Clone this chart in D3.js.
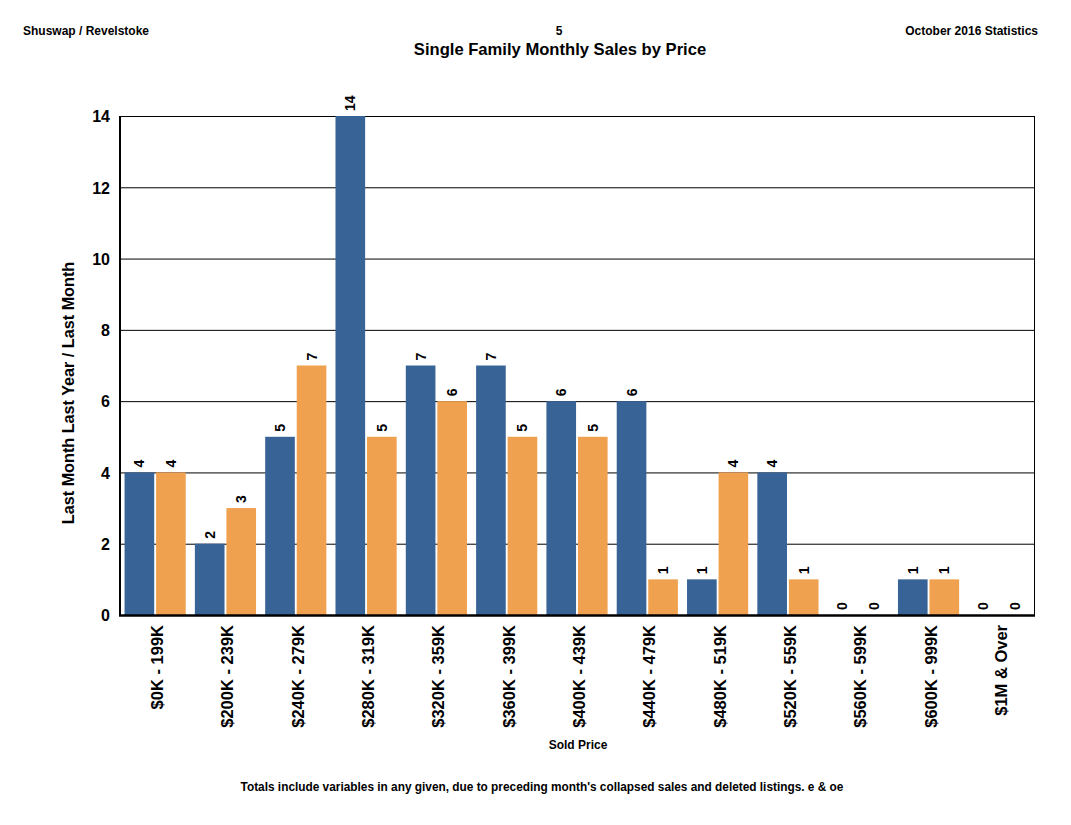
<!DOCTYPE html>
<html>
<head>
<meta charset="utf-8">
<script src="https://cdn.jsdelivr.net/npm/d3@7"></script>
<style>
  body { margin: 0; background: #fff; }
  text { font-family: "Liberation Sans", Arial, sans-serif; font-weight: bold; fill: #000; }
</style>
</head>
<body>
<div id="container"></div>
<script>
const categories = ["$0K - 199K", "$200K - 239K", "$240K - 279K", "$280K - 319K", "$320K - 359K",
  "$360K - 399K", "$400K - 439K", "$440K - 479K", "$480K - 519K", "$520K - 559K",
  "$560K - 599K", "$600K - 999K", "$1M & Over"];
const lastYear = [4, 2, 5, 14, 7, 7, 6, 6, 1, 4, 0, 1, 0];
const lastMonth = [4, 3, 7, 5, 6, 5, 5, 1, 4, 1, 0, 1, 0];
const seriesKeys = ["ly", "lm"];
const yTicks = [0, 2, 4, 6, 8, 10, 12, 14];

const width = 1071, height = 825;
const padding = { top: 116, bot: 615, left: 120, right: 1034 };
const colors = { ly: "#386397", lm: "#efa14f" };

const dataset = categories.map((c, i) => ({ cat: c, ly: lastYear[i], lm: lastMonth[i] }));

const svg = d3.select("#container")
              .append("svg")
              .attr("width", width)
              .attr("height", height);

const x0 = d3.scaleBand()
             .domain(categories)
             .range([padding.left, padding.right])
             .paddingInner(0.13)
             .paddingOuter(0.065);
const x1 = d3.scaleBand()
             .domain(seriesKeys)
             .range([0, x0.bandwidth()])
             .paddingInner(0.06);
const yScale = d3.scaleLinear()
                 .domain([0, 14])
                 .range([padding.bot, padding.top]);

// gridlines
svg.append("g")
   .selectAll("line")
   .data(yTicks.filter(d => d > 0))
   .enter()
   .append("line")
   .attr("x1", padding.left)
   .attr("x2", padding.right)
   .attr("y1", d => yScale(d) + 0.5)
   .attr("y2", d => yScale(d) + 0.5)
   .attr("stroke", "#000")
   .attr("stroke-width", 1);

svg.append("line")
   .attr("x1", padding.right + 0.5).attr("x2", padding.right + 0.5)
   .attr("y1", padding.top).attr("y2", padding.bot)
   .attr("stroke", "#000");

// bars
const groups = svg.append("g")
                  .selectAll("g")
                  .data(dataset)
                  .enter()
                  .append("g")
                  .attr("transform", d => "translate(" + x0(d.cat) + ",0)");

groups.selectAll("rect")
      .data(d => seriesKeys.map(k => ({ key: k, value: d[k] })))
      .enter()
      .append("rect")
      .attr("x", d => x1(d.key))
      .attr("y", d => yScale(d.value))
      .attr("width", x1.bandwidth())
      .attr("height", d => yScale(0) - yScale(d.value))
      .attr("fill", d => colors[d.key]);

groups.selectAll("text")
      .data(d => seriesKeys.map(k => ({ key: k, value: d[k] })))
      .enter()
      .append("text")
      .text(d => d.value)
      .attr("transform", d => "translate(" + (x1(d.key) + x1.bandwidth() / 2 + 5) + "," + (yScale(d.value) - 5) + ")rotate(-90)")
      .attr("text-anchor", "start")
      .style("font-size", "14px");

// axes
const yAxis = d3.axisLeft(yScale)
                .tickValues(yTicks)
                .tickSize(0)
                .tickPadding(10);
const yG = svg.append("g")
              .attr("transform", "translate(" + padding.left + ",0)")
              .call(yAxis);
yG.select(".domain").remove();
yG.selectAll("text").style("font-size", "16px").attr("dy", "0.36em");

const xAxis = d3.axisBottom(x0).tickSize(0);
const xG = svg.append("g")
              .attr("transform", "translate(0," + padding.bot + ")")
              .call(xAxis);
xG.select(".domain").remove();
xG.selectAll("text")
  .style("font-size", "16.5px")
  .attr("text-anchor", "end")
  .attr("transform", "translate(8,10)rotate(-90)")
  .attr("x", 0).attr("y", 0).attr("dy", 0);

svg.append("line")
   .attr("x1", padding.left).attr("x2", padding.left)
   .attr("y1", padding.top).attr("y2", padding.bot + 1)
   .attr("stroke", "#000").attr("stroke-width", 2);
svg.append("line")
   .attr("x1", padding.left - 1).attr("x2", padding.right + 1)
   .attr("y1", padding.bot + 0.5).attr("y2", padding.bot + 0.5)
   .attr("stroke", "#000").attr("stroke-width", 2.5);

// labels
svg.append("text")
   .text("Last Month Last Year / Last Month")
   .attr("transform", "translate(74,393)rotate(-90)")
   .attr("text-anchor", "middle")
   .style("font-size", "16.2px");
svg.append("text")
   .text("Sold Price")
   .attr("x", 578).attr("y", 749)
   .attr("text-anchor", "middle")
   .style("font-size", "12px");
svg.append("text")
   .text("Single Family Monthly Sales by Price")
   .attr("x", 560).attr("y", 55)
   .attr("text-anchor", "middle")
   .style("font-size", "16.6px");
svg.append("text")
   .text("Shuswap / Revelstoke")
   .attr("x", 23).attr("y", 35)
   .style("font-size", "12px");
svg.append("text")
   .text("5")
   .attr("x", 559).attr("y", 35)
   .attr("text-anchor", "middle")
   .style("font-size", "12px");
svg.append("text")
   .text("October 2016 Statistics")
   .attr("x", 1038).attr("y", 35)
   .attr("text-anchor", "end")
   .style("font-size", "12px");
svg.append("text")
   .text("Totals include variables in any given, due to preceding month's collapsed sales and deleted listings. e & oe")
   .attr("x", 542).attr("y", 791)
   .attr("text-anchor", "middle")
   .style("font-size", "11.85px");
</script>
</body>
</html>
